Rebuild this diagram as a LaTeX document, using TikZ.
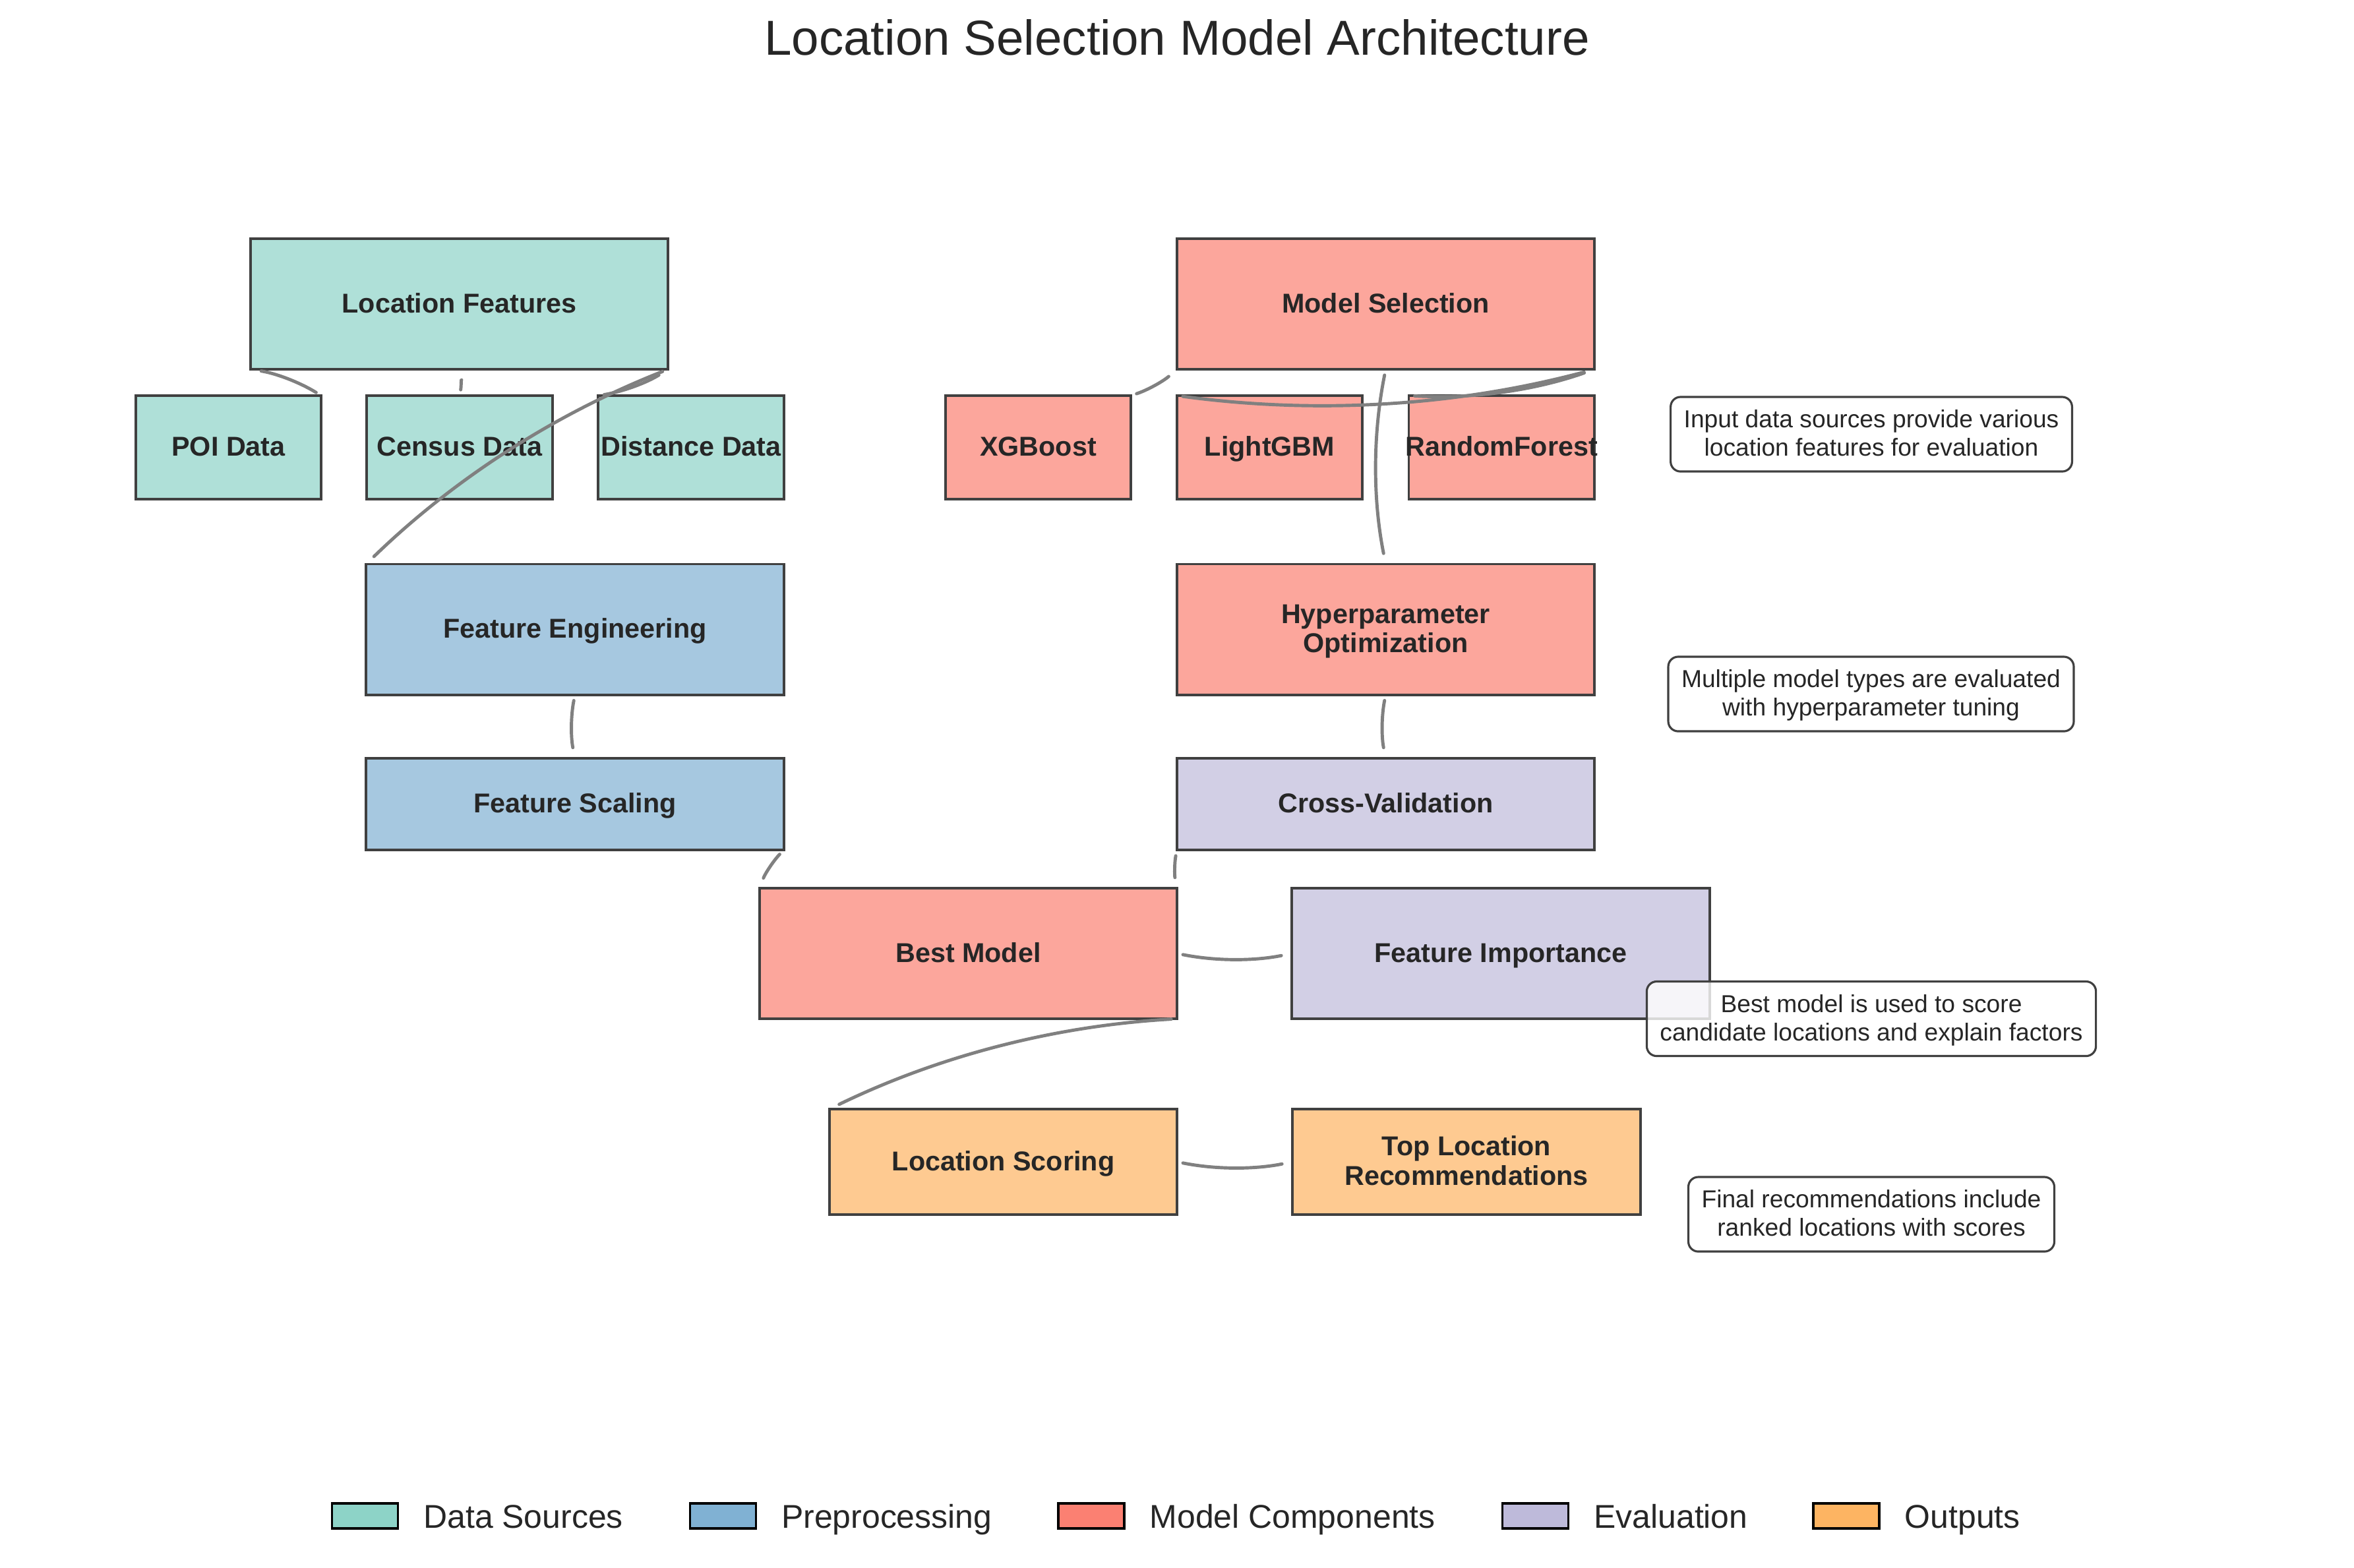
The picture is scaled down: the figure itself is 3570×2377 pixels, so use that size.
\documentclass[tikz,border=0pt]{standalone}
\usepackage{fontspec}
\setmainfont{Liberation Sans}
\usetikzlibrary{calc}
\definecolor{dsfill}{HTML}{AFE0D8}
\definecolor{ppfill}{HTML}{A6C8E0}
\definecolor{mcfill}{HTML}{FCA69C}
\definecolor{evfill}{HTML}{D2CFE5}
\definecolor{outfill}{HTML}{FECA91}
\definecolor{dsleg}{HTML}{8DD3C7}
\definecolor{ppleg}{HTML}{80B1D3}
\definecolor{mcleg}{HTML}{FB8072}
\definecolor{evleg}{HTML}{BEBADA}
\definecolor{outleg}{HTML}{FDB462}
\definecolor{edgegray}{HTML}{404040}
\definecolor{txt}{HTML}{262626}
\definecolor{conngray}{HTML}{808080}
\newcommand{\sst}{\vrule width 0pt height 0.85em depth 0.22em\relax}
\begin{document}
\begin{tikzpicture}[x=0.01cm, y=-0.01cm,
  box/.style={draw=edgegray, line width=1.1pt, rectangle, inner sep=0pt, outer sep=0pt, align=center, text=txt, font=\fontsize{11.75}{12.6}\selectfont\bfseries},
  bigbox/.style={box, minimum width=6.33cm, minimum height=1.98cm},
  smallbox/.style={box, minimum width=2.81cm, minimum height=1.57cm},
  midbox/.style={box, minimum width=6.33cm, minimum height=1.39cm},
  outbox/.style={box, minimum width=5.27cm, minimum height=1.60cm},
  note/.style={draw=edgegray, line width=0.9pt, rounded corners=0.15cm, fill=white, fill opacity=0.8, text opacity=1, inner xsep=0.2cm, inner ysep=0pt, minimum height=1.13cm, align=center, text=txt, font=\fontsize{10.58}{11.3}\selectfont},
  arcR/.style={to path={.. controls ($(\tikztostart)!0.33993!-11.31:(\tikztotarget)$) and ($(\tikztotarget)!0.33993!11.31:(\tikztostart)$) .. (\tikztotarget)}},
  conn/.style={draw=conngray, line width=1.4pt, line cap=round, shorten <=0.9mm, shorten >=1.65mm, arcR},
  swatch/.style={draw=black, line width=1pt, minimum width=1cm, minimum height=0.38cm, inner sep=0pt, outer sep=0pt},
  legtext/.style={anchor=base west, inner sep=0pt, text=txt, font=\fontsize{14.2}{17}\selectfont}
]
\useasboundingbox (0,0) rectangle (3570,2377);
\fill[white] (0,0) rectangle (3570,2377);

\node[anchor=base, inner sep=0pt, text=txt, font=\fontsize{21.2}{25}\selectfont] (title) at (1785,83) {Location Selection Model Architecture};

% Data sources
\node[bigbox, fill=dsfill] (lf) at (696.5,461) {\sst Location Features};
\node[smallbox, fill=dsfill] (poi) at (346.5,678.5) {\sst POI Data};
\node[smallbox, fill=dsfill] (census) at (697,678.5) {\sst Census Data};
\node[smallbox, fill=dsfill] (dist) at (1048,678.5) {\sst\makebox[0pt]{Distance Data}};
% Preprocessing
\node[bigbox, fill=ppfill] (fe) at (872,954.5) {\sst Feature Engineering};
\node[midbox, fill=ppfill] (fs) at (872,1219.5) {\sst Feature Scaling};
% Model components
\node[bigbox, fill=mcfill] (ms) at (2101.5,461) {\sst Model Selection};
\node[smallbox, fill=mcfill] (xgb) at (1574.5,678.5) {\sst XGBoost};
\node[smallbox, fill=mcfill] (lgbm) at (1925.5,678.5) {\sst LightGBM};
\node[smallbox, fill=mcfill] (rf) at (2277,678.5) {\sst\makebox[0pt]{RandomForest}};
\node[bigbox, fill=mcfill] (ho) at (2101.5,954.5) {\sst Hyperparameter\\\sst Optimization};
\node[midbox, fill=evfill] (cv) at (2101.5,1219.5) {\sst Cross-Validation};
\node[bigbox, fill=mcfill] (bm) at (1468.5,1446) {\sst Best Model};
\node[bigbox, fill=evfill] (fi) at (2276,1446) {\sst Feature Importance};
% Outputs
\node[outbox, fill=outfill] (ls) at (1521.5,1762) {\sst Location Scoring};
\node[outbox, fill=outfill] (tl) at (2224,1762) {\sst Top Location\\\sst Recommendations};

% Connectors
\draw[conn] (poi.north east) to (lf.south west);
\draw[conn] (census.north) to (lf.south);
\draw[conn] (dist.north west) to (lf.south east);
\draw[conn] (lf.south east) to (fe.north west);
\draw[conn] (fe.south) to (fs.north);
\draw[conn] (fs.south east) to (bm.north west);
\draw[conn] (xgb.north east) to (ms.south west);
\draw[conn] (lgbm.north west) to (ms.south east);
\draw[conn] (rf.north west) to (ms.south east);
\draw[conn] (ms.south) to (ho.north);
\draw[conn] (ho.south) to (cv.north);
\draw[conn] (cv.south west) to (bm.north east);
\draw[conn] (bm.east) to (fi.west);
\draw[conn] (bm.south east) to (ls.north west);
\draw[conn] (ls.east) to (tl.west);

% Notes
\node[note] (n1) at (2838,658.5) {\sst Input data sources provide various\\\sst location features for evaluation};
\node[note] (n2) at (2837.5,1052.5) {\sst Multiple model types are evaluated\\\sst with hyperparameter tuning};
\node[note] (n3) at (2838,1545) {\sst Best model is used to score\\\sst candidate locations and explain factors};
\node[note] (n4) at (2838,1841.5) {\sst Final recommendations include\\\sst ranked locations with scores};

% Legend
\node[swatch, fill=dsleg] (lg1) at (553.6,2299) {};
\node[legtext] (lt1) at ($(lg1.east)+(38,18)$) {Data Sources};
\node[swatch, fill=ppleg] (lg2) at (1096.4,2299) {};
\node[legtext] (lt2) at ($(lg2.east)+(38,18)$) {Preprocessing};
\node[swatch, fill=mcleg] (lg3) at (1655,2299) {};
\node[legtext] (lt3) at ($(lg3.east)+(38,18)$) {Model Components};
\node[swatch, fill=evleg] (lg4) at (2328.6,2299) {};
\node[legtext] (lt4) at ($(lg4.east)+(38,18)$) {Evaluation};
\node[swatch, fill=outleg] (lg5) at (2800,2299) {};
\node[legtext] (lt5) at ($(lg5.east)+(38,18)$) {Outputs};
\end{tikzpicture}
\end{document}
